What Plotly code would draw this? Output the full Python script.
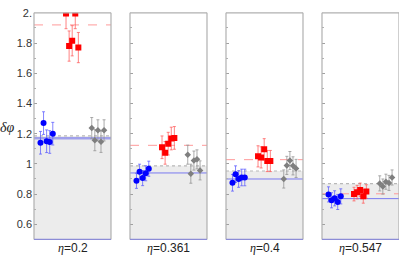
import plotly.graph_objects as go

# ---------------- data ----------------
eta_labels = ["0.2", "0.361", "0.4", "0.547"]

blue_vals = [
    [1.14, 1.27, 1.15, 1.145, 1.20],
    [0.888, 0.948, 0.906, 0.938, 0.968],
    [0.875, 0.932, 0.900, 0.910, 0.910],
    [0.798, 0.759, 0.772, 0.748, 0.785],
]
red_vals = [
    [1.995, 1.78, 1.815, 1.995, 1.77],
    [1.11, 1.073, 1.134, 1.168, 1.172],
    [1.05, 1.043, 1.097, 1.019, 1.019],
    [0.800, 0.813, 0.828, 0.785, 0.817],
]
gray_vals = [
    [1.237, 1.157, 1.222, 1.146, 1.222],
    [1.061, 0.935, 1.022, 1.030, 0.957],
    [0.900, 0.990, 1.022, 0.987, 0.970],
    [0.871, 0.850, 0.882, 0.874, 0.910],
]
blue_err = [0.075, 0.05, 0.055, 0.05]
red_err = [0.10, 0.075, 0.07, 0.045]
gray_err = [0.07, 0.063, 0.06, 0.05]

blue_level = [1.17, 0.94, 0.90, 0.77]
red_level = [1.92, 1.123, 1.028, 0.802]
shade_level = [1.185, 0.987, 0.953, 0.869]

ytick_vals = [0.6, 0.8, 1.0, 1.2, 1.4, 1.6, 1.8, 2.0]
ytick_text = ["0.6", "0.8", "1", "1.2", "1.4", "1.6", "1.8", "2."]

# ---------------- layout constants ----------------
W, H = 399, 257
panel_px = [(34, 111), (130, 207), (226, 303), (322, 399)]
y_top_px, y_bot_px = 7, 239
group_start = [2.1, 10.4, 18.75]   # slot offsets of blue / red / gray groups
x_range = [0, 25]
y_range = [0.5, 2.0]

fig = go.Figure()
shapes = []
annotations = []

for p in range(4):
    n = p + 1
    xs = "" if n == 1 else str(n)
    xref, yref = "x" + xs, "y" + xs
    series = [
        (blue_vals[p], blue_err[p], "circle", 6, "#0000ff", "rgba(90,90,255,0.75)"),
        (red_vals[p], red_err[p], "square", 6, "#ff0000", "rgba(255,90,90,0.75)"),
        (gray_vals[p], gray_err[p], "diamond", 5, "#7f7f7f", "rgba(150,150,150,0.8)"),
    ]
    for g, (vals, err, sym, size, col, ecol) in enumerate(series):
        xv = [group_start[g] + i for i in range(len(vals))]
        fig.add_trace(go.Scatter(
            x=xv, y=vals, mode="markers", xaxis=xref, yaxis=yref,
            marker=dict(symbol=sym, size=size, color=col, line=dict(width=0)),
            error_y=dict(type="constant", value=err, color=ecol, thickness=1, width=1.5),
            showlegend=False, hoverinfo="skip",
        ))

    x0, x1 = panel_px[p]
    fig.layout["xaxis" + xs] = dict(
        domain=[x0 / W, x1 / W], range=x_range, visible=False, anchor=yref,
    )
    fig.layout["yaxis" + xs] = dict(
        domain=[1 - y_bot_px / H, 1 - y_top_px / H], range=y_range, anchor=xref,
        showgrid=False, zeroline=False, showline=False,
        ticks="inside", ticklen=3, tickcolor="#a0a0a0", tickwidth=1,
        tickvals=ytick_vals, ticktext=ytick_text, showticklabels=(p == 0),
        tickfont=dict(family="Liberation Sans, Arial", size=11, color="#333333"),
        minor=dict(ticks="inside", ticklen=2, tickcolor="#b0b0b0", dtick=0.1, tick0=0.5),
        ticklabelstandoff=1,
    )

    dx, dy = xref + " domain", yref
    # shaded region
    shapes.append(dict(type="rect", xref=dx, yref=dy, x0=0, x1=1, y0=y_range[0],
                       y1=shade_level[p], fillcolor="#ececec", line=dict(width=0), layer="below"))
    # dotted gray line at top of shade
    shapes.append(dict(type="line", xref=dx, yref=dy, x0=0, x1=1, y0=shade_level[p],
                       y1=shade_level[p], line=dict(color="#b8b8b8", width=1.2, dash="dot"), layer="below"))
    # blue level
    shapes.append(dict(type="line", xref=dx, yref=dy, x0=0, x1=1, y0=blue_level[p],
                       y1=blue_level[p],
                       line=dict(color="rgba(110,110,235,0.6)" if p == 0 else "#7a7af0",
                                 width=2.5 if p == 0 else 1), layer="below"))
    # red dashed level
    shapes.append(dict(type="line", xref=dx, yref=dy, x0=0, x1=1, y0=red_level[p],
                       y1=red_level[p], line=dict(color="#ff9a9a", width=1, dash="dash"), layer="below"))
    # frame
    dyd = yref + " domain"
    for (a0, b0, a1, b1, c) in [(0, 0, 0, 1, "#b0b0b0"), (1, 0, 1, 1, "#b0b0b0"),
                                (0, 1, 1, 1, "#b0b0b0"), (0, 0, 1, 0, "#8c8cd6")]:
        shapes.append(dict(type="line", xref=dx, yref=dyd, x0=a0, y0=b0, x1=a1, y1=b1,
                           line=dict(color=c, width=1.2), layer="above"))

    annotations.append(dict(
        xref="paper", yref="paper", x=(x0 + x1) / 2 / W, y=1 - 248 / H,
        xanchor="center", yanchor="middle", showarrow=False,
        text="<i style='font-family:Liberation Serif'>η</i>=" + eta_labels[p],
        font=dict(family="Liberation Sans, Arial", size=12, color="#222222"),
    ))

annotations.append(dict(
    xref="paper", yref="paper", x=7 / W, y=1 - 124 / H, xanchor="center", yanchor="middle",
    showarrow=False, text="<i>δφ</i>",
    font=dict(family="Liberation Serif, Times New Roman", size=14, color="#222222"),
))

fig.update_layout(
    width=W, height=H, margin=dict(l=0, r=0, t=0, b=0),
    paper_bgcolor="white", plot_bgcolor="white",
    shapes=shapes, annotations=annotations,
)

fig.write_html(
    "out.html",
    config={"displayModeBar": False},
    post_script="document.body.style.margin='0';document.body.style.overflow='hidden';",
)
